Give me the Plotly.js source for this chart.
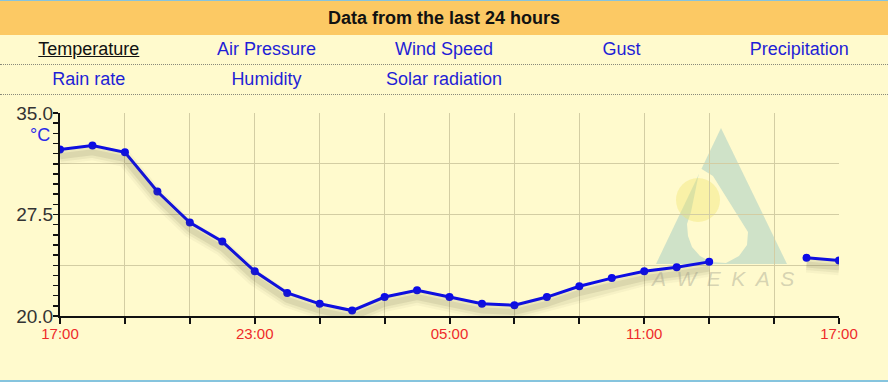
<!DOCTYPE html>
<html>
<head>
<meta charset="utf-8">
<script src="https://cdn.plot.ly/plotly-3.0.1.min.js"></script>
<style>
  html, body { margin:0; padding:0; }
  body { width:888px; height:382px; background:#FFFACD; position:relative; overflow:hidden;
         font-family: Arial, "Liberation Sans", sans-serif; }
  #topline { position:absolute; left:0; top:0; width:888px; height:1px; background:#86c4de; }
  #botline { position:absolute; left:0; top:380px; width:888px; height:2px; background:#86c4de; }
  #hdr { position:absolute; left:0; top:1px; width:888px; height:34px; background:#FCC964;
         text-align:center; line-height:34px; font-weight:bold; font-size:18px; color:#111; }
  .row { position:absolute; left:0; width:888px; height:29px; display:flex;
         border-bottom:1px dotted #8a8a7a; }
  .cell { width:177.6px; text-align:center; font-size:18px; line-height:28px; color:#1f1fd6; }
  .cell.sel { color:#111; text-decoration:underline; }
  #chart { position:absolute; left:0; top:96px; width:888px; height:284px; }
</style>
</head>
<body>
<div id="topline"></div>
<div id="hdr">Data from the last 24 hours</div>
<div class="row" style="top:35px">
  <div class="cell sel">Temperature</div>
  <div class="cell">Air Pressure</div>
  <div class="cell">Wind Speed</div>
  <div class="cell">Gust</div>
  <div class="cell">Precipitation</div>
</div>
<div class="row" style="top:65px">
  <div class="cell">Rain rate</div>
  <div class="cell">Humidity</div>
  <div class="cell">Solar radiation</div>
  <div class="cell"></div>
  <div class="cell"></div>
</div>
<div id="chart"></div>
<div id="botline"></div>
<script>
// ---- data ----
const times = [
  '2024-06-01 17:00','2024-06-01 18:00','2024-06-01 19:00','2024-06-01 20:00','2024-06-01 21:00',
  '2024-06-01 22:00','2024-06-01 23:00','2024-06-02 00:00','2024-06-02 01:00','2024-06-02 02:00',
  '2024-06-02 03:00','2024-06-02 04:00','2024-06-02 05:00','2024-06-02 06:00','2024-06-02 07:00',
  '2024-06-02 08:00','2024-06-02 09:00','2024-06-02 10:00','2024-06-02 11:00','2024-06-02 12:00',
  '2024-06-02 13:00','2024-06-02 14:00','2024-06-02 15:00','2024-06-02 16:00','2024-06-02 17:00'
];
const temperature = [
  32.3, 32.6, 32.1, 29.2, 26.9,
  25.5, 23.3, 21.7, 20.9, 20.4,
  21.4, 21.9, 21.4, 20.9, 20.8,
  21.4, 22.2, 22.8, 23.3, 23.6,
  24.0, null, null, 24.3, 24.1
];
const xTickVals = [
  '2024-06-01 17:00','2024-06-01 19:00','2024-06-01 21:00','2024-06-01 23:00','2024-06-02 01:00',
  '2024-06-02 03:00','2024-06-02 05:00','2024-06-02 07:00','2024-06-02 09:00','2024-06-02 11:00',
  '2024-06-02 13:00','2024-06-02 15:00','2024-06-02 17:00'
];
const xTickText = ['17:00','','','23:00','','','05:00','','','11:00','','','17:00'];
const yTickVals = [20, 23.75, 27.5, 31.25, 35];
const yTickText = ['20.0','','27.5','','35.0'];
const unitLabel = '°C';
const watermarkText = '<i>A\u2002W\u2002E\u2002K\u2002A\u2002S</i>';

// ---- geometry helpers for decorations (plot area 60..839 x, 113..316 y in page px) ----
const PL = 60, PR = 839, PT = 113, PB = 316, TOP = 96;
const px = v => (v - PL) / (PR - PL);
const py = v => (PB - v) / (PB - PT);
const shadowShift = 0.5; // degrees (~7px)

const gridCol = '#d3cda3';
const lineCol = '#0b0be8';

function shadow(width, alpha) {
  return { x: times, y: temperature, yaxis: 'y2', mode: 'lines', connectgaps: false,
    line: { color: 'rgba(105,100,70,' + alpha + ')', width: width }, hoverinfo: 'skip', showlegend: false };
}
const traces = [
  shadow(16, 0.05), shadow(11, 0.08), shadow(6, 0.12),
  { x: times, y: temperature, mode: 'lines+markers', connectgaps: false,
    line: { color: lineCol, width: 3 }, marker: { color: lineCol, size: 8 }, showlegend: false }
];

function path(points) {
  return 'M' + points.map(p => px(p[0]).toFixed(5) + ',' + py(p[1]).toFixed(5)).join('L') + 'Z';
}

const shapes = [
  { type: 'path', xref: 'paper', yref: 'paper', layer: 'below',
    path: path([[721,128],[787,264],[656,264]]),
    fillcolor: 'rgba(135,190,192,0.40)', line: { width: 0 } },
  { type: 'path', xref: 'paper', yref: 'paper', layer: 'below',
    path: path([[700,168],[713,176],[748,232],[747,245],[739,256],[726,263],[711,262],[700,256],
                [692,247],[688,236],[687,224],[691,212]]),
    fillcolor: '#FFFACD', line: { width: 0 } },
  { type: 'circle', xref: 'paper', yref: 'paper', layer: 'below',
    x0: px(676), x1: px(720), y0: py(222), y1: py(178),
    fillcolor: 'rgba(240,228,110,0.40)', line: { width: 0 } }
];

const annotations = [
  { xref: 'paper', yref: 'paper', x: px(722), y: py(278), xanchor: 'center', yanchor: 'middle',
    text: watermarkText, showarrow: false,
    font: { family: 'Arial, Liberation Sans', size: 21, color: 'rgba(150,150,135,0.40)' } },
  { xref: 'paper', yref: 'paper', x: px(40), y: py(135), xanchor: 'center', yanchor: 'middle',
    text: unitLabel, showarrow: false,
    font: { family: 'Arial, Liberation Sans', size: 18, color: '#2a2ae8' } }
];

const layout = {
  width: 888, height: 284,
  margin: { l: PL, r: 888 - PR, t: PT - TOP, b: (TOP + 284) - PB, pad: 0 },
  paper_bgcolor: 'rgba(0,0,0,0)', plot_bgcolor: 'rgba(0,0,0,0)',
  showlegend: false,
  xaxis: {
    type: 'date', range: ['2024-06-01 17:00', '2024-06-02 17:00'],
    tickmode: 'array', tickvals: xTickVals, ticktext: xTickText,
    showgrid: true, gridcolor: gridCol, gridwidth: 1,
    showline: true, linecolor: '#111', linewidth: 2,
    ticks: 'outside', ticklen: 6, tickcolor: '#111', tickwidth: 2,
    ticklabelstandoff: -3,
    tickfont: { family: 'Arial, Liberation Sans', size: 15, color: '#ee2a2a' },
    zeroline: false, fixedrange: true
  },
  yaxis: {
    range: [20, 35], tickmode: 'array', tickvals: yTickVals, ticktext: yTickText,
    showgrid: true, gridcolor: gridCol, gridwidth: 1,
    showline: true, linecolor: '#111', linewidth: 2,
    ticks: 'outside', ticklen: 5, tickcolor: '#111', tickwidth: 1.5,
    ticklabelstandoff: -4,
    tickfont: { family: 'Arial, Liberation Sans', size: 19, color: '#333' },
    minor: { tick0: 20, dtick: 0.75, ticks: 'outside', ticklen: 5, tickcolor: '#111', tickwidth: 1.5, showgrid: false },
    zeroline: false, fixedrange: true
  },
  yaxis2: {
    range: [20 + shadowShift, 35 + shadowShift], overlaying: 'y', visible: false, fixedrange: true
  },
  shapes: shapes,
  annotations: annotations
};

Plotly.newPlot('chart', traces, layout, { displayModeBar: false, staticPlot: true });
</script>
</body>
</html>
